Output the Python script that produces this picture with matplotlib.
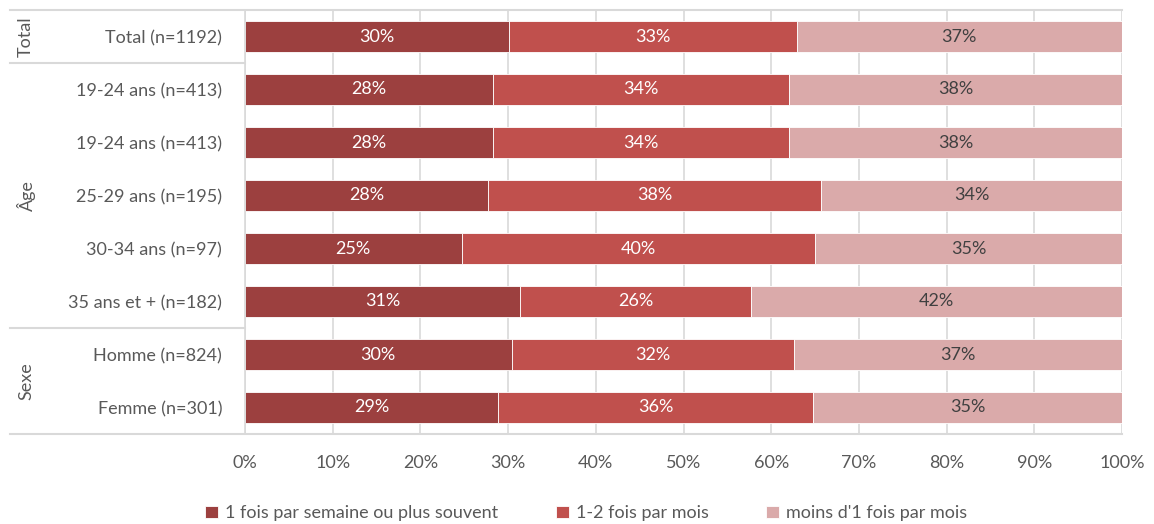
import matplotlib.pyplot as plt
from matplotlib.transforms import blended_transform_factory

plt.rcParams['font.family'] = ['Lato', 'DejaVu Sans']

# rows, top to bottom
labels = ["Total (n=1192)", "19-24 ans (n=413)", "19-24 ans (n=413)", "25-29 ans (n=195)",
          "30-34 ans (n=97)", "35 ans et + (n=182)", "Homme (n=824)", "Femme (n=301)"]
hebdo = [30.1, 28.3, 28.3, 27.7, 24.7, 31.4, 30.4, 28.9]
mensuel = [32.8, 33.7, 33.7, 38.0, 40.3, 26.3, 32.2, 35.9]
rarement = [37.1, 38.0, 38.0, 34.3, 35.0, 42.3, 37.4, 35.2]
series_names = ["1 fois par semaine ou plus souvent", "1-2 fois par mois", "moins d'1 fois par mois"]

# group name, first row, last row
groups = [("Total", 0, 0), ("Âge", 1, 5), ("Sexe", 6, 7)]

colors = ["#9C403F", "#C0504D", "#DAAAAA"]
text_colors = ["white", "white", "#404040"]
grey = "#595959"
line_grey = "#D9D9D9"
fs = 13

fig = plt.figure(figsize=(11.54, 5.24), dpi=100)
ax = fig.add_axes([245 / 1154, 1 - 434 / 524, 877 / 1154, 424 / 524])

y = list(range(len(labels)))
left = [0] * len(labels)
for vals, col, tcol, name in zip([hebdo, mensuel, rarement], colors, text_colors, series_names):
    bars = ax.barh(y, vals, left=left, height=0.59, color=col, edgecolor="white",
                   linewidth=0.6, label=name, zorder=2)
    ax.bar_label(bars, labels=[f"{v:.0f}%" for v in vals], label_type="center",
                 color=tcol, fontsize=fs)
    left = [l + v for l, v in zip(left, vals)]

ax.set_xlim(0, 100)
ax.set_ylim(7.5, -0.5)
ax.set_xticks(range(0, 101, 10))
ax.set_xticklabels([f"{t}%" for t in range(0, 101, 10)], fontsize=fs, color=grey)
ax.set_yticks(y)
ax.set_yticklabels(labels, fontsize=fs, color=grey)
ax.tick_params(axis="y", length=0, pad=16.5)
ax.tick_params(axis="x", length=0, pad=15)
ax.grid(axis="x", color=line_grey, linewidth=1.2, zorder=0)
for s in ["top", "right", "bottom"]:
    ax.spines[s].set_visible(False)
ax.spines["left"].set_color(line_grey)
ax.spines["left"].set_linewidth(1.2)

# group separators and rotated group names on the left
trans = blended_transform_factory(ax.transAxes, ax.transData)
x0 = (10 - 245) / 877
for yy in [-0.5, 7.5]:
    ax.plot([x0, 1], [yy, yy], transform=trans, color=line_grey, lw=1.5, clip_on=False)
for yy in [0.5, 5.5]:
    ax.plot([x0, 0], [yy, yy], transform=trans, color=line_grey, lw=1.5, clip_on=False)
gx = (26 - 245) / 877
for name, a, b in groups:
    ax.text(gx, (a + b) / 2, name, transform=trans, rotation=90, ha="center",
            va="center", fontsize=fs, color=grey)

leg = fig.legend(loc="lower center", bbox_to_anchor=(0.508, -0.026), ncol=3, frameon=False,
                 fontsize=fs, handlelength=0.7, handleheight=0.7, handletextpad=0.4,
                 columnspacing=3.2)
for t in leg.get_texts():
    t.set_color(grey)

fig.savefig("out.png", dpi=100)
